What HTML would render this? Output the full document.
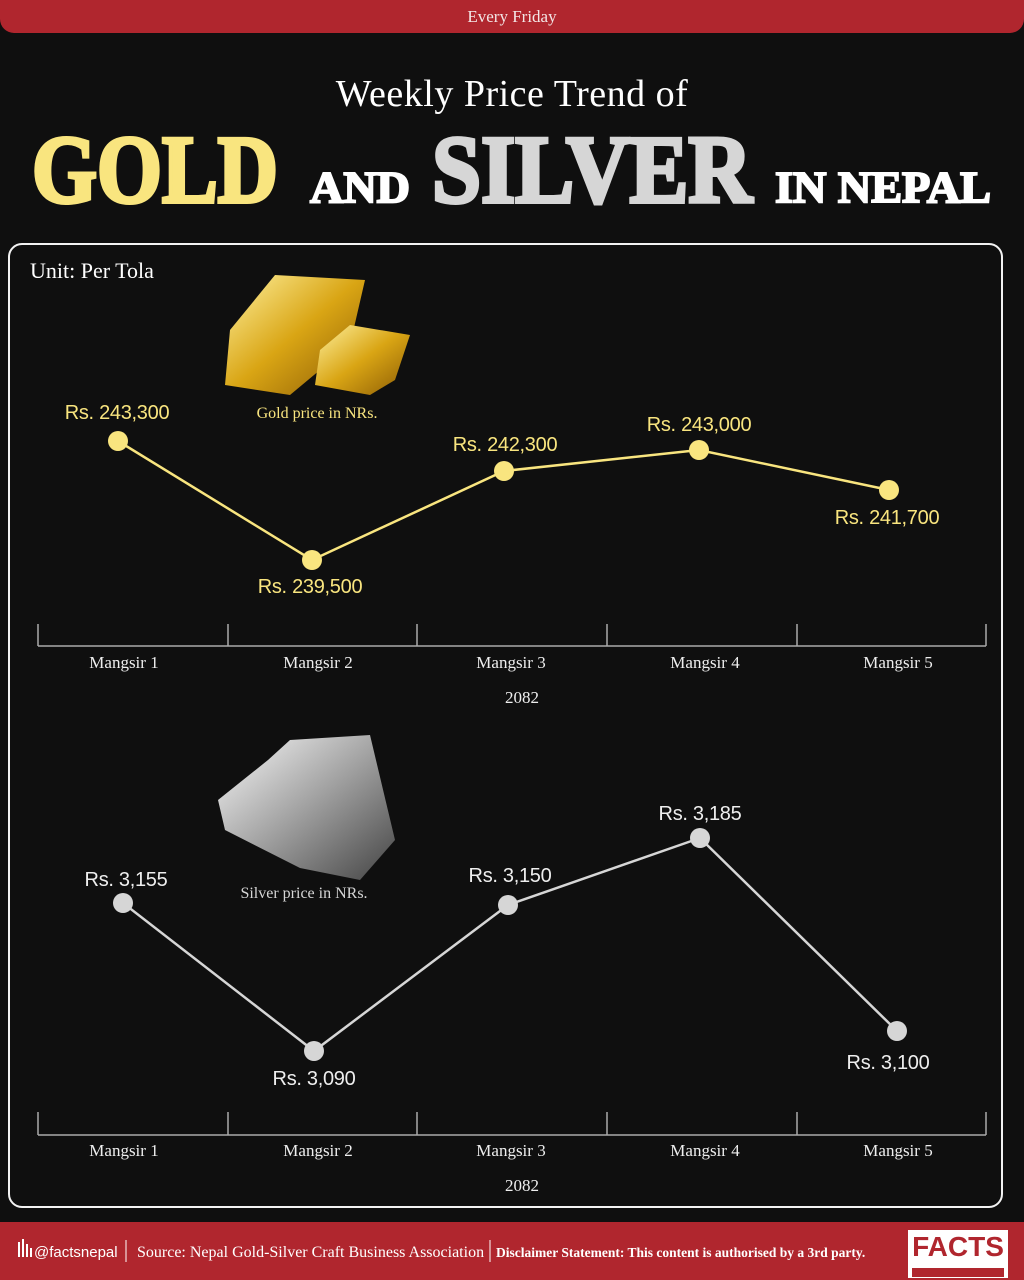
<!DOCTYPE html>
<html><head><meta charset="utf-8"><style>
body{margin:0;width:1024px;height:1280px;background:#0f0f0f;position:relative;overflow:hidden;font-family:"Liberation Serif",serif;color:#fff}
.top{position:absolute;left:0;top:0;width:1024px;height:33px;background:#b0262e;border-radius:0 0 14px 14px;text-align:center;font-size:17px;line-height:34px;color:#f3e6e6}
.t1{position:absolute;top:72px;width:1024px;text-align:center;font-size:38px;color:#fff;letter-spacing:0.5px}
.panel{position:absolute;left:8px;top:243px;width:991px;height:961px;border:2.5px solid #f2f2f2;border-radius:14px}
.foot{position:absolute;left:0;top:1222px;width:1024px;height:58px;background:#b0262e}
</style></head><body>
<div class="top">Every Friday</div>
<div class="t1">Weekly Price Trend of</div>
<svg width="1024" height="100" style="position:absolute;top:118px;left:0">
<text x="32" y="84" font-family="Liberation Serif" font-weight="bold" font-size="96" fill="#f9e57f" stroke="#f9e57f" stroke-width="4" textLength="246" lengthAdjust="spacingAndGlyphs">GOLD</text>
<text x="310" y="84" font-family="Liberation Serif" font-weight="bold" font-size="44" fill="#fff" stroke="#fff" stroke-width="2" textLength="100" lengthAdjust="spacingAndGlyphs">AND</text>
<text x="432" y="84" font-family="Liberation Serif" font-weight="bold" font-size="96" fill="#d6d6d6" stroke="#d6d6d6" stroke-width="4" textLength="320" lengthAdjust="spacingAndGlyphs">SILVER</text>
<text x="775" y="84" font-family="Liberation Serif" font-weight="bold" font-size="44" fill="#fff" stroke="#fff" stroke-width="2" textLength="216" lengthAdjust="spacingAndGlyphs">IN NEPAL</text>
</svg>
<div class="panel"></div>
<svg width="1024" height="1280" style="position:absolute;left:0;top:0" font-family="Liberation Serif">
<text x="30" y="278" font-size="22" fill="#fff">Unit: Per Tola</text>
<defs>
<linearGradient id="g" x1="0" y1="0" x2="1" y2="1"><stop offset="0" stop-color="#fff2a0"/><stop offset=".5" stop-color="#d9a514"/><stop offset="1" stop-color="#8a5a05"/></linearGradient>
<linearGradient id="s" x1="0" y1="0" x2="1" y2="1"><stop offset="0" stop-color="#fafafa"/><stop offset=".5" stop-color="#a0a0a0"/><stop offset="1" stop-color="#444"/></linearGradient>
</defs>
<polygon points="230,330 275,275 365,280 350,345 290,395 225,385" fill="url(#g)"/>
<polygon points="320,350 350,325 410,335 395,380 370,395 315,385" fill="url(#g)"/>
<text x="317" y="418" font-size="16" fill="#f9e57f" text-anchor="middle">Gold price in NRs.</text>
<polygon points="218,800 268,760 290,740 370,735 395,840 360,880 300,868 225,830" fill="url(#s)"/>
<text x="304" y="898" font-size="16" fill="#d6d6d6" text-anchor="middle">Silver price in NRs.</text>
<polyline points="118,441 312,560 504,471 699,450 889,490" fill="none" stroke="#f9e57f" stroke-width="2.5"/>
<g fill="#f9e57f"><circle cx="118" cy="441" r="10"/><circle cx="312" cy="560" r="10"/><circle cx="504" cy="471" r="10"/><circle cx="699" cy="450" r="10"/><circle cx="889" cy="490" r="10"/></g>
<g font-family="Liberation Sans" font-size="20" fill="#f9e57f" text-anchor="middle" letter-spacing="-0.3">
<text x="117" y="419">Rs. 243,300</text><text x="310" y="593">Rs. 239,500</text><text x="505" y="451">Rs. 242,300</text><text x="699" y="431">Rs. 243,000</text><text x="887" y="524">Rs. 241,700</text></g>
<g stroke="#aaa" stroke-width="1.5"><line x1="38" y1="646" x2="986" y2="646"/>
<line x1="38" y1="624" x2="38" y2="646"/><line x1="228" y1="624" x2="228" y2="646"/><line x1="417" y1="624" x2="417" y2="646"/><line x1="607" y1="624" x2="607" y2="646"/><line x1="797" y1="624" x2="797" y2="646"/><line x1="986" y1="624" x2="986" y2="646"/></g>
<g font-size="17" fill="#eee" text-anchor="middle"><text x="124" y="668">Mangsir 1</text><text x="318" y="668">Mangsir 2</text><text x="511" y="668">Mangsir 3</text><text x="705" y="668">Mangsir 4</text><text x="898" y="668">Mangsir 5</text><text x="522" y="703">2082</text></g>
<polyline points="123,903 314,1051 508,905 700,838 897,1031" fill="none" stroke="#d6d6d6" stroke-width="2.5"/>
<g fill="#d6d6d6"><circle cx="123" cy="903" r="10"/><circle cx="314" cy="1051" r="10"/><circle cx="508" cy="905" r="10"/><circle cx="700" cy="838" r="10"/><circle cx="897" cy="1031" r="10"/></g>
<g font-family="Liberation Sans" font-size="20" fill="#eee" text-anchor="middle" letter-spacing="-0.3">
<text x="126" y="886">Rs. 3,155</text><text x="314" y="1085">Rs. 3,090</text><text x="510" y="882">Rs. 3,150</text><text x="700" y="820">Rs. 3,185</text><text x="888" y="1069">Rs. 3,100</text></g>
<g stroke="#aaa" stroke-width="1.5"><line x1="38" y1="1135" x2="986" y2="1135"/>
<line x1="38" y1="1112" x2="38" y2="1135"/><line x1="228" y1="1112" x2="228" y2="1135"/><line x1="417" y1="1112" x2="417" y2="1135"/><line x1="607" y1="1112" x2="607" y2="1135"/><line x1="797" y1="1112" x2="797" y2="1135"/><line x1="986" y1="1112" x2="986" y2="1135"/></g>
<g font-size="17" fill="#eee" text-anchor="middle"><text x="124" y="1156">Mangsir 1</text><text x="318" y="1156">Mangsir 2</text><text x="511" y="1156">Mangsir 3</text><text x="705" y="1156">Mangsir 4</text><text x="898" y="1156">Mangsir 5</text><text x="522" y="1191">2082</text></g>
</svg>
<div class="foot"></div>
<svg width="1024" height="58" style="position:absolute;left:0;top:1222px" font-family="Liberation Serif">
<g fill="#fff"><rect x="18" y="20" width="2" height="15"/><rect x="22" y="17" width="2" height="18"/><rect x="26" y="22" width="2" height="13"/><rect x="30" y="26" width="2" height="9"/></g>
<text x="34" y="35" font-family="Liberation Sans" font-size="15" fill="#fff">@factsnepal</text>
<line x1="126" y1="18" x2="126" y2="40" stroke="#fff"/>
<text x="137" y="35" font-size="16" fill="#fff">Source: Nepal Gold-Silver Craft Business Association</text>
<line x1="490" y1="18" x2="490" y2="40" stroke="#fff"/>
<text x="496" y="35" font-size="13.5" fill="#fff" font-weight="bold">Disclaimer Statement: This content is authorised by a 3rd party.</text>
<rect x="908" y="8" width="100" height="48" fill="#fff"/>
<text x="958" y="34" font-family="Liberation Sans" font-weight="bold" font-size="28" fill="#b0262e" text-anchor="middle">FACTS</text>
<rect x="912" y="46" width="92" height="9" fill="#b0262e"/>
</svg>
</body></html>
